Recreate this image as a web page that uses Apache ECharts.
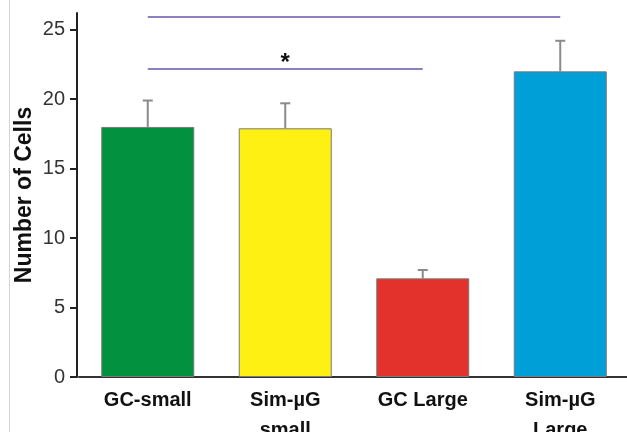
<!DOCTYPE html>
<html>
<head>
<meta charset="utf-8">
<script src="https://cdn.jsdelivr.net/npm/echarts@6/dist/echarts.min.js"></script>
<style>
html,body{margin:0;padding:0;background:#fff;}
#chart{width:627px;height:432px;}
</style>
</head>
<body>
<div id="chart"></div>
<script>
const categories = ['GC-small', 'Sim-µG\nsmall', 'GC Large', 'Sim-µG\nLarge'];
const means = [18.0, 17.9, 7.1, 22.0];
const errors = [1.9, 1.8, 0.6, 2.2];
const barColors = ['#02913F', '#FFF014', '#E3322C', '#009FD7'];
const yAxisMin = 0;
const yAxisMax = 26.2;
const yTickInterval = 5;
const sigLines = [
  { from: 0, to: 2, value: 22.2, mark: '*' },
  { from: 0, to: 3, value: 25.9, mark: '*' }
];

const FONT = 'Liberation Sans, Arial, sans-serif';
const chart = echarts.init(document.getElementById('chart'), null, { renderer: 'canvas' });

const option = {
  animation: false,
  backgroundColor: '#fff',
  grid: { left: 79, right: -2, top: 13, bottom: 55, containLabel: false, outerBoundsMode: 'none' },
  xAxis: {
    type: 'category',
    data: categories,
    axisTick: { show: false },
    axisLine: { lineStyle: { color: '#333', width: 2 } },
    axisLabel: {
      fontFamily: FONT, fontSize: 20, fontWeight: 'bold', color: '#111',
      lineHeight: 30, margin: 8, interval: 0
    }
  },
  yAxis: {
    type: 'value',
    min: yAxisMin,
    max: yAxisMax,
    interval: yTickInterval,
    offset: 2,
    name: 'Number of Cells',
    nameLocation: 'middle',
    nameGap: 41,
    nameMoveOverlap: false,
    nameTextStyle: { fontFamily: FONT, fontSize: 23, fontWeight: 'bold', color: '#111' },
    splitLine: { show: false },
    axisLine: { show: true, lineStyle: { color: '#222', width: 2 } },
    axisTick: { show: true, length: 7, lineStyle: { color: '#222', width: 2 } },
    axisLabel: {
      fontFamily: FONT, fontSize: 20, color: '#333', margin: 12,
      showMaxLabel: false
    }
  },
  series: [
    {
      type: 'bar',
      barWidth: 93,
      data: means.map((v, i) => ({
        value: v,
        itemStyle: { color: barColors[i], borderColor: '#7a7a7a', borderWidth: 1 }
      })),
      markLine: {
        silent: true,
        symbol: ['none', 'none'],
        lineStyle: { color: '#8E80C0', width: 2, type: 'solid' },
        label: {
          show: true, position: 'middle', formatter: '{b}',
          fontFamily: FONT, fontSize: 24, fontWeight: 'bold', color: '#111', distance: 0
        },
        data: sigLines.map((s, k) => [
          { coord: [s.from, s.value], name: s.mark, label: { distance: k === 0 ? -7 : 14 } },
          { coord: [s.to, s.value] }
        ])
      }
    },
    {
      type: 'custom',
      data: means.map((m, i) => [i, m, errors[i]]),
      renderItem: function (params, api) {
        const i = api.value(0);
        const base = api.coord([i, api.value(1)]);
        const top = api.coord([i, api.value(1) + api.value(2)]);
        const style = { stroke: '#8a8a8a', lineWidth: 2 };
        return {
          type: 'group',
          children: [
            { type: 'line', shape: { x1: base[0], y1: base[1], x2: top[0], y2: top[1] }, style: style },
            { type: 'line', shape: { x1: top[0] - 5, y1: top[1], x2: top[0] + 5, y2: top[1] }, style: style }
          ]
        };
      },
      z: 3
    }
  ],
  graphic: [
    {
      type: 'line',
      shape: { x1: 9.5, y1: 0, x2: 9.5, y2: 432 },
      style: { stroke: '#d4d4d4', lineWidth: 1 },
      silent: true
    }
  ]
};
chart.setOption(option);
</script>
</body>
</html>
